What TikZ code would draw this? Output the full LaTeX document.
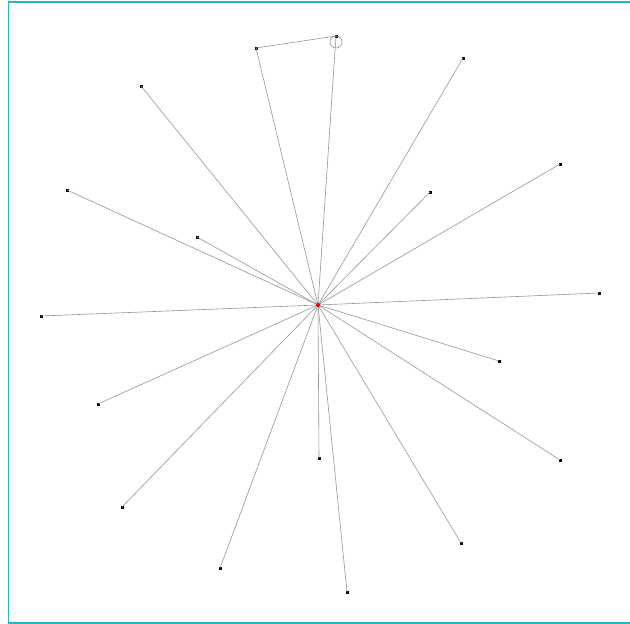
\documentclass[tikz,border=0pt]{standalone}
\usetikzlibrary{calc}
\definecolor{frame}{RGB}{40,180,196}
\definecolor{edgec}{RGB}{150,150,150}
\tikzset{
  leaf/.style={fill=black,inner sep=0pt,minimum size=3pt,draw=none,rectangle},
  hub/.style={fill=red,inner sep=0pt,minimum size=4pt,draw=none,circle},
  link/.style={draw=edgec,line width=0.6pt},
}
\begin{document}
\begin{tikzpicture}[x=1pt,y=-1pt]
\useasboundingbox (0,0) rectangle (630,624);
\fill[white] (0,0) rectangle (630,624);
\draw[frame,line width=1.8pt] (632,2) -- (8.5,2) -- (8.5,623) -- (632,623);
\node[hub] (h) at (318,305) {};
\foreach \n/\x/\y in {a/256/48,b/336/36,c/463/58,d/141/86,e/560/164,f/67/190,g/430/192,i/197/237,j/599/293,k/41/316,l/499/361,m/98/404,n/319/458,o/560/460,p/122/507,q/461/543,r/220/568,s/347/592}{
  \node[leaf] (\n) at (\x,\y) {};
}
\begin{scope}[on background layer/.try]
\foreach \n in {a,b,c,d,e,f,g,i,j,k,l,m,n,o,p,q,r,s}{
  \draw[link] (h.center) -- (\n.center);
}
\draw[link] (a.center) -- (b.center);
\end{scope}
\node[hub] at (h) {};
\draw[edgec,line width=0.6pt] (336,42) circle (6);
\end{tikzpicture}
\end{document}
